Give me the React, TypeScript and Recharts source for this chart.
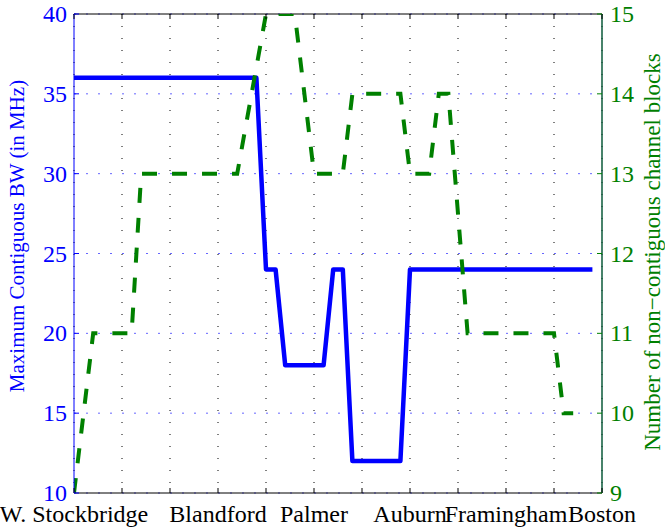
import React from 'react';
import { LineChart, Line, XAxis, YAxis, CartesianGrid, ReferenceLine } from 'recharts';

const CHART_W = 665;
const CHART_H = 527;
const PLOT_LEFT = 74;
const PLOT_RIGHT = 602;
const PLOT_TOP = 14;
const PLOT_BOTTOM = 493;
const FONT = '"Liberation Serif", "Times New Roman", serif';

// x positions along the route (one unit per town slot)
const xTicks = [0, 1, 2, 3, 4, 5, 6, 7, 8, 9, 10, 11];
const townLabels = ['W. Stockbridge', '', '', 'Blandford', '', 'Palmer', '', 'Auburn', '', 'Framingham', '', 'Boston'];

const bwTicks = [10, 15, 20, 25, 30, 35, 40];
const blockTicks = [9, 10, 11, 12, 13, 14, 15];

// Maximum contiguous bandwidth (MHz)
const bwX = [0, 3.8, 4.0, 4.2, 4.4, 5.2, 5.4, 5.6, 5.8, 6.8, 7.0, 10.8];
const bwY = [36, 36, 24, 24, 18, 18, 24, 24, 12, 12, 24, 24];

// Number of non-contiguous channel blocks
const blocksX = [0, 0.4, 1.2, 1.4, 3.4, 4.0, 4.6, 5.0, 5.6, 5.8, 6.8, 7.0, 7.4, 7.6, 7.8, 8.2, 10.0, 10.2, 10.4];
const blocksY = [9, 11, 11, 13, 13, 15, 15, 13, 13, 14, 14, 13, 13, 14, 14, 11, 11, 10, 10];

const bwData = bwX.map((x, i) => ({ x, bw: bwY[i] }));
const blocksData = blocksX.map((x, i) => ({ x, blocks: blocksY[i] }));

const BLUE = '#0000ff';
const GREEN = '#008000';
const RIGHT_AXIS = '#0b5a3a';

const XTick = (props: any) => {
  const { x, payload } = props;
  const label = townLabels[payload.value] ?? '';
  return (
    <g>
      <line x1={x} x2={x} y1={PLOT_BOTTOM} y2={PLOT_BOTTOM - 5} stroke="#000" strokeWidth={1} />
      <line x1={x} x2={x} y1={PLOT_TOP} y2={PLOT_TOP + 5} stroke="#000" strokeWidth={1} />
      {label ? (
        <text x={x} y={522} textAnchor="middle" fill="#000" fontSize={24} fontFamily={FONT}>
          {label}
        </text>
      ) : null}
    </g>
  );
};

const BwTick = (props: any) => {
  const { y, payload } = props;
  return (
    <g>
      <line x1={PLOT_LEFT} x2={PLOT_LEFT + 5} y1={y} y2={y} stroke={BLUE} strokeWidth={1} />
      <text x={67} y={y + 8} textAnchor="end" fill={BLUE} fontSize={24} fontFamily={FONT}>
        {payload.value}
      </text>
    </g>
  );
};

const BlockTick = (props: any) => {
  const { y, payload } = props;
  return (
    <g>
      <line x1={PLOT_RIGHT - 5} x2={PLOT_RIGHT} y1={y} y2={y} stroke={GREEN} strokeWidth={1} />
      <text x={610} y={y + 8} textAnchor="start" fill={GREEN} fontSize={24} fontFamily={FONT}>
        {payload.value}
      </text>
    </g>
  );
};

const LeftLabel = () => (
  <text
    x={17}
    y={236}
    transform="rotate(-90 17 236)"
    textAnchor="middle"
    dominantBaseline="central"
    fill={BLUE}
    fontSize={21}
    fontFamily={FONT}
  >
    Maximum Contiguous BW (in MHz)
  </text>
);

const RightLabel = () => (
  <text
    x={652}
    y={252}
    transform="rotate(-90 652 252)"
    textAnchor="middle"
    dominantBaseline="central"
    fill={GREEN}
    fontSize={23}
    fontFamily={FONT}
  >
    Number of non−contiguous channel blocks
  </text>
);

export default function App() {
  return (
    <div style={{ position: 'absolute', left: 0, top: 0, width: CHART_W, height: CHART_H, background: '#fff' }}>
      <LineChart
        width={CHART_W}
        height={CHART_H}
        margin={{ top: PLOT_TOP, right: 0, bottom: 0, left: 0 }}
        style={{ fontFamily: FONT }}
      >
        <CartesianGrid
          yAxisId="bw"
          horizontal={false}
          vertical={true}
          stroke="#000"
          strokeDasharray="1 11"
        />
        <CartesianGrid
          yAxisId="bw"
          horizontal={true}
          vertical={false}
          stroke="#6666ff"
          strokeDasharray="2 10"
        />
        <XAxis
          dataKey="x"
          type="number"
          domain={[0, 11]}
          ticks={xTicks}
          interval={0}
          allowDataOverflow
          height={CHART_H - PLOT_BOTTOM}
          axisLine={{ stroke: '#000', strokeWidth: 1 }}
          tickLine={false}
          tick={<XTick />}
        />
        <YAxis
          yAxisId="bw"
          orientation="left"
          domain={[10, 40]}
          ticks={bwTicks}
          interval={0}
          allowDataOverflow
          width={PLOT_LEFT}
          axisLine={{ stroke: BLUE, strokeWidth: 1 }}
          tickLine={false}
          tick={<BwTick />}
          label={{ content: () => <LeftLabel /> }}
        />
        <YAxis
          yAxisId="blocks"
          orientation="right"
          domain={[9, 15]}
          ticks={blockTicks}
          interval={0}
          allowDataOverflow
          width={CHART_W - PLOT_RIGHT}
          axisLine={{ stroke: RIGHT_AXIS, strokeWidth: 1.5 }}
          tickLine={false}
          tick={<BlockTick />}
          label={{ content: () => <RightLabel /> }}
        />
        <ReferenceLine yAxisId="bw" y={40} stroke="#000" strokeWidth={1} />
        <Line
          data={bwData}
          dataKey="bw"
          yAxisId="bw"
          type="linear"
          stroke={BLUE}
          strokeWidth={4.5}
          strokeLinejoin="round"
          dot={false}
          activeDot={false}
          isAnimationActive={false}
        />
        <Line
          data={blocksData}
          dataKey="blocks"
          yAxisId="blocks"
          type="linear"
          stroke={GREEN}
          strokeWidth={4}
          strokeDasharray="15 15"
          dot={false}
          activeDot={false}
          isAnimationActive={false}
        />
      </LineChart>
    </div>
  );
}
